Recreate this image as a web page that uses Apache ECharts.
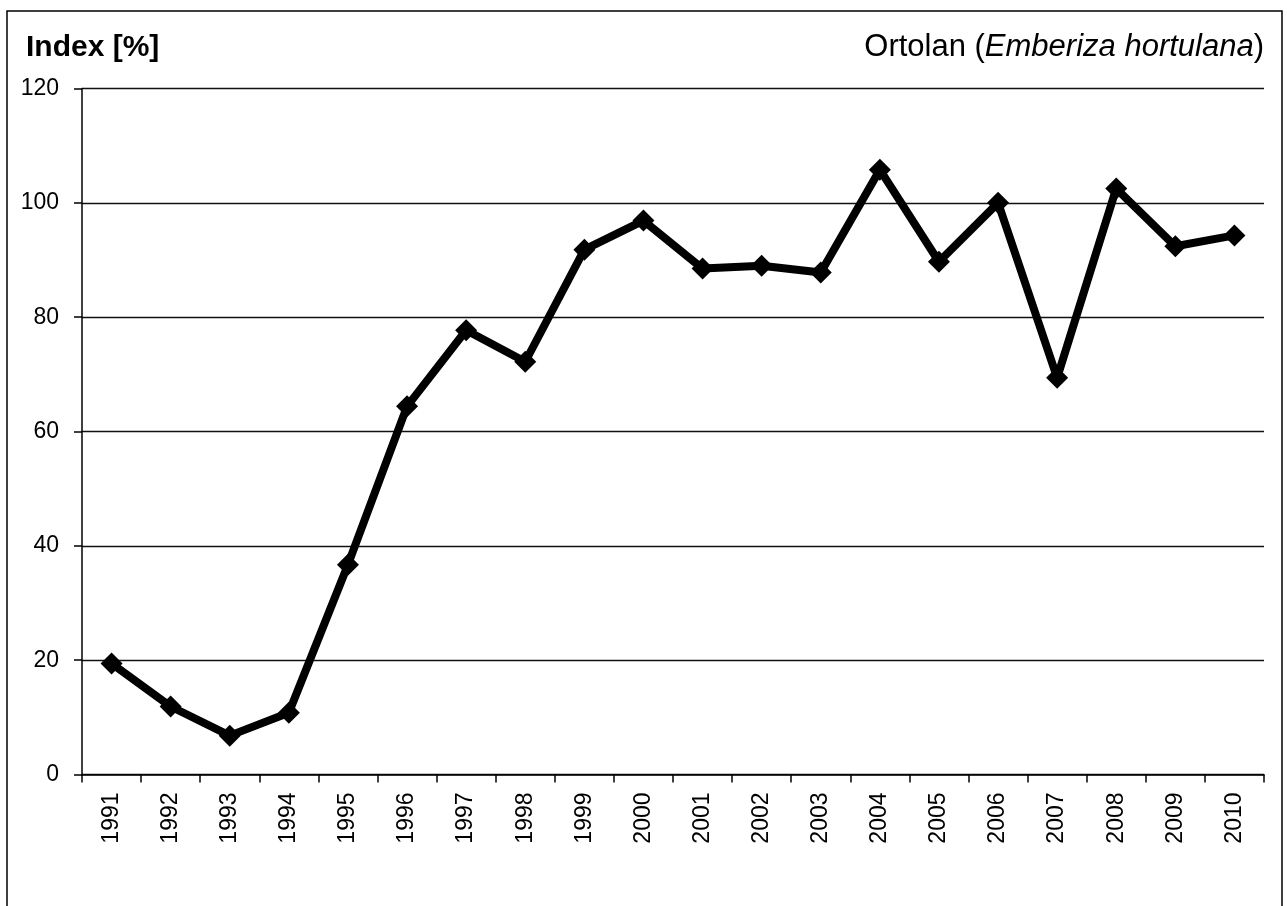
<!DOCTYPE html>
<html>
<head>
<meta charset="utf-8">
<title>Ortolan (Emberiza hortulana)</title>
<script src="https://cdn.jsdelivr.net/npm/echarts@6/dist/echarts.min.js"></script>
<style>
  html, body { margin: 0; padding: 0; background: #fff; }
  #chart { width: 1287px; height: 906px; }
</style>
</head>
<body>
<div id="chart"></div>
<script>
// Survey years
const years = ['1991', '1992', '1993', '1994', '1995', '1996', '1997', '1998', '1999', '2000',
               '2001', '2002', '2003', '2004', '2005', '2006', '2007', '2008', '2009', '2010'];
// Population index in percent
const indexValues = [19.4, 11.9, 6.8, 10.8, 36.7, 64.4, 77.7, 72.2, 91.8, 96.9,
                     88.5, 89.0, 87.8, 105.8, 89.7, 100.0, 69.4, 102.5, 92.4, 94.3];
// Value-axis range
const yMin = 0;
const yMax = 120;
const yStep = 20;

const font = '"Liberation Sans", Arial, sans-serif';
const chart = echarts.init(document.getElementById('chart'), null, { renderer: 'canvas' });

chart.setOption({
  backgroundColor: '#ffffff',
  animation: false,
  title: [
    {
      text: 'Index [%]',
      left: 21,
      top: 28,
      textStyle: { fontFamily: font, fontSize: 30, fontWeight: 'bold', color: '#000' }
    },
    {
      text: '{n|Ortolan (}{i|Emberiza hortulana}{n|)}',
      right: 18,
      top: 27,
      textStyle: {
        fontWeight: 'normal',
        rich: {
          n: { fontFamily: font, fontSize: 31, fontWeight: 'normal', color: '#000' },
          i: { fontFamily: font, fontSize: 31, fontWeight: 'normal', fontStyle: 'italic', color: '#000' }
        }
      }
    }
  ],
  graphic: [
    {
      type: 'rect',
      shape: { x: 7, y: 11, width: 1275, height: 1000 },
      style: { fill: 'none', stroke: '#000', lineWidth: 1.5 },
      silent: true
    }
  ],
  grid: { left: 82, right: 23, top: 88.5, bottom: 131.5, containLabel: false },
  xAxis: {
    type: 'category',
    data: years,
    boundaryGap: true,
    axisLine: { lineStyle: { color: '#000', width: 1.5 } },
    axisTick: { show: true, length: 8, alignWithLabel: false, lineStyle: { color: '#000', width: 1.5 } },
    axisLabel: { rotate: 90, margin: 18, fontFamily: font, fontSize: 23, color: '#000', interval: 0 },
    splitLine: { show: false }
  },
  yAxis: {
    type: 'value',
    min: yMin,
    max: yMax,
    interval: yStep,
    axisLine: { show: true, lineStyle: { color: '#000', width: 1.5 } },
    axisTick: { show: true, length: 8, lineStyle: { color: '#000', width: 1.5 } },
    axisLabel: { margin: 23, fontFamily: font, fontSize: 23, color: '#000' },
    splitLine: { show: true, lineStyle: { color: '#111', width: 1.3 } }
  },
  series: [
    {
      type: 'line',
      data: indexValues,
      symbol: 'diamond',
      symbolSize: 22,
      showSymbol: true,
      lineStyle: { color: '#000', width: 8, join: 'round' },
      itemStyle: { color: '#000' },
      z: 5
    }
  ]
});
</script>
</body>
</html>
